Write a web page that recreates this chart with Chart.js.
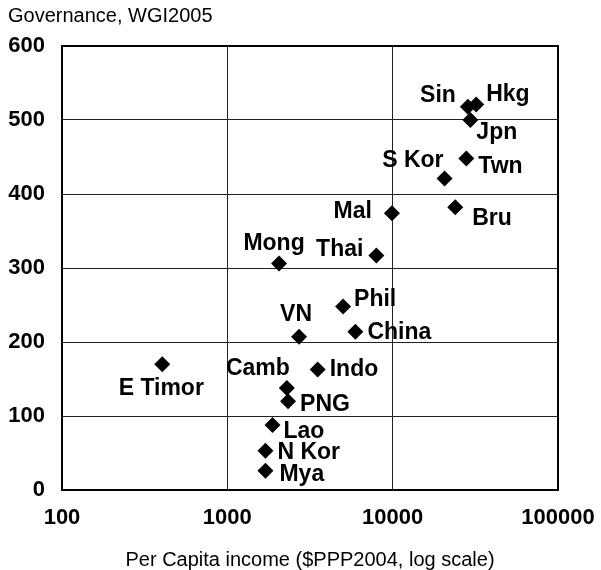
<!DOCTYPE html>
<html><head><meta charset="utf-8">
<script src="https://cdn.jsdelivr.net/npm/chart.js@4"></script>
<style>html,body{margin:0;padding:0;background:#fff}canvas{display:block}</style>
</head><body>
<canvas id="c" width="601" height="570"></canvas>
<script>
// ---- data ----
const countries = ['Sin','Hkg','Jpn','Twn','S Kor','Bru','Mal','Thai','Phil','China','VN','Indo','Mong','Camb','PNG','Lao','N Kor','Mya','E Timor'];
const income     = [28500,32000,29500,27900,20600,23900,9900,7970,5010,5950,2715,3520,2055,2290,2330,1875,1700,1700,404];
const governance = [518,521,500,448,421,382,374,317,248,214,207,163,306,138,120,88,53,26,170];
const xTickValues = [100,1000,10000,100000];
const yTickValues = [0,100,200,300,400,500,600];
const yAxisTitle = 'Governance, WGI2005';
const xAxisTitle = 'Per Capita income ($PPP2004, log scale)';

// ---- label placement (style only): [dx, dy, align] ----
const placement = {
  'Sin':[-12,-11,'right'],'Hkg':[10,-10,'left'],'Jpn':[6,13,'left'],'Twn':[12,8,'left'],
  'S Kor':[-1,-18,'right'],'Bru':[17,11,'left'],'Mal':[-20,-2,'right'],'Thai':[-13,-6,'right'],
  'Phil':[11,-7,'left'],'China':[12,1,'left'],'VN':[-3,-22,'center'],'Indo':[12,0,'left'],
  'Mong':[-5,-20,'center'],'Camb':[3,-19,'right'],'PNG':[12,3,'left'],'Lao':[11,7,'left'],
  'N Kor':[12,2,'left'],'Mya':[14,4,'left'],'E Timor':[-1,24,'center']
};
const FONT = '"Liberation Sans", Arial, sans-serif';

const framePlugin = {
  id:'frame',
  beforeDatasetsDraw(chart){
    const {ctx, chartArea:a} = chart;
    ctx.save();
    ctx.strokeStyle = '#000'; ctx.lineWidth = 2;
    ctx.strokeRect(a.left, a.top, a.right-a.left, a.bottom-a.top);
    ctx.restore();
  },
  afterDatasetsDraw(chart){
    const {ctx} = chart;
    const meta = chart.getDatasetMeta(0);
    ctx.save();
    ctx.fillStyle = '#000';
    ctx.font = 'bold 23px ' + FONT;
    ctx.textBaseline = 'middle';
    meta.data.forEach((pt,i)=>{
      const p = placement[countries[i]];
      ctx.textAlign = p[2];
      ctx.fillText(countries[i], pt.x + p[0], pt.y + p[1]);
    });
    ctx.font = '20px ' + FONT;
    ctx.textBaseline = 'alphabetic';
    ctx.textAlign = 'left';
    ctx.fillText(yAxisTitle, 8, 22);
    ctx.textAlign = 'center';
    const a = chart.chartArea;
    ctx.fillText(xAxisTitle, (a.left+a.right)/2, 566);
    ctx.restore();
  }
};

new Chart(document.getElementById('c'), {
  type:'scatter',
  data:{
    datasets:[{
      data: income.map((v,i)=>({x:v, y:governance[i]})),
      pointStyle:'rectRot', radius:8, hoverRadius:8,
      backgroundColor:'#000', borderWidth:0
    }]
  },
  options:{
    responsive:false, animation:false,
    layout:{padding:{top:46, right:43, left:0, bottom:0}},
    plugins:{legend:{display:false}, tooltip:{enabled:false}},
    scales:{
      x:{
        type:'logarithmic', min:100, max:100000,
        afterBuildTicks(s){ s.ticks = xTickValues.map(v=>({value:v})); },
        afterFit(s){ s.height = 80; s.paddingLeft = 0; s.paddingRight = 0; },
        ticks:{ autoSkip:false, maxRotation:0, padding:15, color:'#000',
          font:{family:FONT, size:22, weight:'bold'}, callback:(v)=>String(v) },
        grid:{ color:'#222', lineWidth:1, drawTicks:false },
        border:{ display:false }
      },
      y:{
        min:0, max:600,
        afterBuildTicks(s){ s.ticks = yTickValues.map(v=>({value:v})); },
        afterFit(s){ s.width = 62; s.paddingTop = 0; s.paddingBottom = 0; },
        ticks:{ padding:17, color:'#000', font:{family:FONT, size:22, weight:'bold'} },
        grid:{ color:'#222', lineWidth:1, drawTicks:false },
        border:{ display:false }
      }
    }
  },
  plugins:[framePlugin]
});
</script>
</body></html>
